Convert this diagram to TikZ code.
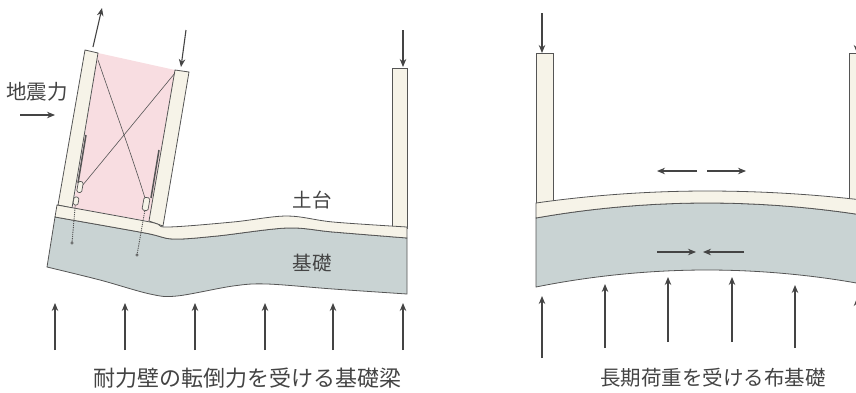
\documentclass[tikz,border=0pt]{standalone}
\usepackage{fontspec}
\usepackage{tikz}
\usetikzlibrary{arrows.meta}
\newfontfamily\jpfont{Noto Sans CJK JP}
\definecolor{cWood}{RGB}{246,243,232}
\definecolor{cWall}{RGB}{248,221,225}
\definecolor{cBase}{RGB}{201,211,211}
\definecolor{cEdge}{RGB}{85,85,85}
\definecolor{cInk}{RGB}{68,68,68}
\tikzset{
	member/.style   ={draw=cEdge, line width=0.8pt, fill=cWood},
	footing/.style  ={draw=cEdge, line width=0.8pt, fill=cBase},
	brace/.style    ={cEdge, line width=0.6pt},
	bolt/.style     ={cEdge, line width=0.9pt, dash pattern=on 1.2pt off 1pt},
	holddown/.style ={rectangle, draw=cEdge, line width=0.7pt, fill=cWood, rounded corners=1.5pt, inner sep=0pt},
	force/.style    ={-{Stealth[length=8pt, width=6.5pt]}, cInk, line width=1.1pt},
	% labels
	lbl/.style      ={text=cInk, inner sep=0pt, font=\jpfont\fontsize{20.5}{20.5}\selectfont},
	caption/.style  ={text=cInk, inner sep=0pt, anchor=west, font=\jpfont\fontsize{22}{22}\selectfont},
}

\begin{document}
\begin{tikzpicture}[x=1pt, y=-1pt]
	\useasboundingbox (0,0) rectangle (856,392);
	\clip (0,0) rectangle (856,392);

	% ---- overturning shear wall on a foundation beam ----
	\fill[cWall] (98,53) -- (175,70) -- (149,221) -- (73,208) -- cycle;
	\path[member] (58,205) -- (85,50) -- (98,53) -- (72,208) -- cycle;
	\path[member] (149,221) -- (175,70) -- (189,72) -- (163,226) -- cycle;
	\path[member] (392,68) rectangle (407,228);
	\path[footing] plot[smooth, tension=0.55] coordinates {(55,217) (145,233) (173,239) (217,236) (287,228) (333,232) (407,238)}
		-- plot[smooth, tension=0.55] coordinates {(407,294) (333,289) (267,284) (233,286) (177,296) (150,294) (100,280) (47,267)} -- cycle;
	\path[member] plot[smooth, tension=0.55] coordinates {(57,205) (150,222) (167,227) (233,222) (287,216) (333,222) (407,227)}
		-- plot[smooth, tension=0.55] coordinates {(407,238) (333,232) (287,228) (217,236) (173,239) (145,233) (55,217)} -- cycle;

	% cross bracing and hold-down hardware
	\draw[brace] (98,60) .. controls (115,110) and (130,150) .. (145,198);
	\draw[brace] (175,73) -- (82,186);
	\draw[cEdge, line width=1.5pt] (86,135) -- (78,183);
	\draw[cEdge, line width=1.5pt] (159,150) -- (151,198);
	\node[holddown, rotate=-10, minimum width=5pt, minimum height=11pt] (hdA) at (80,187) {};
	\node[holddown, rotate=-10, minimum width=5pt, minimum height=8pt] (hdB) at (76,201) {};
	\node[holddown, rotate=-10, minimum width=6pt, minimum height=13pt] (hdC) at (146,204) {};
	\draw[bolt] (hdB.south) -- (72,243) coordinate (boltA);
	\draw[bolt] (hdC.south) -- (137,255) coordinate (boltB);
	\draw[cEdge, line width=0.6pt] (boltA) circle (1.3pt) (boltB) circle (1.3pt);

	% loads
	\draw[force] (93,47) -- (102,8);
	\draw[force] (186,30) -- (181,67);
	\draw[force] (403,30) -- (403,67);
	\draw[force] (20,115) -- (55,115);
	\foreach \x in {55,125,195,265,333,403}
		\draw[force] (\x,350) -- (\x,303);

	\node[lbl] (quake) at (37,92) {地震力};
	\node[lbl, font=\jpfont\fontsize{19.5}{19.5}\selectfont] (dodai) at (312,200) {土台};
	\node[lbl, font=\jpfont\fontsize{19.5}{19.5}\selectfont] (kiso) at (312,263) {基礎};
	\node[caption] (capA) at (93,378) {耐力壁の転倒力を受ける基礎梁};

	% ---- strip footing under long-term load ----
	\path[member] (536,53) rectangle (553,204);
	\path[member] (849,53) rectangle (866,203);
	\path[footing] (536,218) parabola bend (707,203) (862,215) -- (862,284) parabola bend (707,270) (536,287) -- cycle;
	\path[member] (536,203) parabola bend (707,191) (862,200) -- (862,215) parabola bend (707,203) (536,218) -- cycle;

	\draw[force] (542,13) -- (542,53);
	\draw[force] (857,13) -- (857,53);
	\draw[force] (697,171) -- (657,171);
	\draw[force] (707,171) -- (746,171);
	\draw[force] (657,252) -- (696,252);
	\draw[force] (744,252) -- (703,252);
	\foreach \x/\a/\b in {542/358/296, 605/348/284, 668/342/277, 732/342/277, 795/348/285, 857/358/298}
		\draw[force] (\x,\a) -- (\x,\b);

	\node[caption, font=\jpfont\fontsize{20.5}{20.5}\selectfont] (capB) at (600,378) {長期荷重を受ける布基礎};
\end{tikzpicture}
\end{document}
